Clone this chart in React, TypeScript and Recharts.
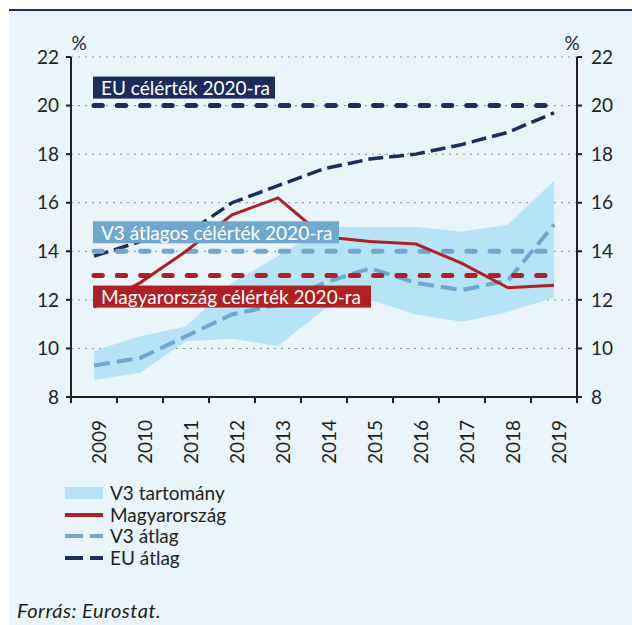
import React from 'react';
import { ComposedChart, Line, Area, XAxis, YAxis, CartesianGrid, ReferenceDot } from 'recharts';

const years = [2009, 2010, 2011, 2012, 2013, 2014, 2015, 2016, 2017, 2018, 2019];
const euAvg = [13.8, 14.4, 14.7, 16.0, 16.7, 17.4, 17.8, 18.0, 18.4, 18.9, 19.7];
const huValues = [11.7, 12.7, 14.0, 15.5, 16.2, 14.6, 14.4, 14.3, 13.5, 12.5, 12.6];
const v3Avg = [9.3, 9.6, 10.5, 11.4, 11.8, 12.7, 13.3, 12.7, 12.4, 12.8, 15.1];
const v3Low = [8.7, 9.0, 10.3, 10.4, 10.1, 11.6, 12.0, 11.4, 11.1, 11.5, 12.1];
const v3High = [9.9, 10.5, 10.9, 12.7, 13.8, 15.0, 15.0, 15.0, 14.8, 15.1, 16.9];
const euTarget = [20, 20, 20, 20, 20, 20, 20, 20, 20, 20, 20];
const v3Target = [14, 14, 14, 14, 14, 14, 14, 14, 14, 14, 14];
const huTarget = [13, 13, 13, 13, 13, 13, 13, 13, 13, 13, 13];
const yTicks = [8, 10, 12, 14, 16, 18, 20, 22];

const NAVY = '#1b2d5b';
const RED = '#b01f24';
const STEEL = '#6fa7cf';
const AREA = '#b7e3f6';
const TEXT = '#231f20';
const FONT = 'Lato, "Open Sans", sans-serif';
const FS = 19;

const data = years.map((year, i) => ({
  year,
  eu: euAvg[i],
  hu: huValues[i],
  v3: v3Avg[i],
  range: [v3Low[i], v3High[i]],
  euT: euTarget[i],
  v3T: v3Target[i],
  huT: huTarget[i],
}));

const xTicks = [...years.flatMap((y) => [y - 0.5, y]), years[years.length - 1] + 0.5];

const legendItems = [
  { name: 'V3 tartomány', kind: 'area', color: AREA },
  { name: 'Magyarország', kind: 'solid', color: RED },
  { name: 'V3 átlag', kind: 'dash', color: STEEL },
  { name: 'EU átlag', kind: 'dash', color: NAVY },
];

const XTick = (props: any) => {
  const { x, y, payload } = props;
  const v = payload.value;
  if (!Number.isInteger(v)) {
    return <line x1={x} x2={x} y1={y} y2={y + 6} stroke={TEXT} strokeWidth={2} />;
  }
  const tx = x + 4;
  const ty = y + 23;
  return (
    <text
      x={tx}
      y={ty}
      transform={`rotate(-90 ${tx} ${ty})`}
      textAnchor="end"
      dominantBaseline="central"
      fontSize={FS}
      fontFamily={FONT}
      fill={TEXT}
    >
      {v}
    </text>
  );
};

const makeBox = (text: string, color: string, width: number, dy: number) => (p: any) => {
  const bx = p.cx - 1;
  const by = p.cy + dy;
  return (
    <g>
      <rect x={bx} y={by} width={width} height={22} fill={color} />
      <text x={bx + 8} y={by + 11} dominantBaseline="central" fontSize={FS} fontFamily={FONT} fill="#ffffff">
        {text}
      </text>
    </g>
  );
};

export default function App() {
  return (
    <div style={{ padding: '9px 0 0 9px' }}>
      <style>{`body{margin:0;overflow:hidden}`}</style>
      <div
        style={{
          position: 'relative',
          width: 623,
          height: 614,
          background: '#e9f4fb',
          borderTop: '2px solid #1f2a6e',
          fontFamily: FONT,
          color: TEXT,
        }}
      >
        <ComposedChart width={623} height={480} data={data} margin={{ top: 46, right: 0, left: 0, bottom: 44 }}>
          <CartesianGrid vertical={false} yAxisId="l" stroke="#8a8a8a" strokeDasharray="2 5" />
          <XAxis
            dataKey="year"
            type="number"
            domain={[2008.5, 2019.5]}
            ticks={xTicks}
            interval={0}
            height={50}
            tickLine={false}
            tickSize={0}
            tickMargin={0}
            axisLine={{ stroke: TEXT, strokeWidth: 2 }}
            tick={<XTick />}
          />
          <YAxis
            yAxisId="l"
            orientation="left"
            width={62}
            domain={[8, 22]}
            ticks={yTicks}
            allowDataOverflow
            interval={0}
            tickSize={5}
            tickMargin={7}
            axisLine={{ stroke: TEXT, strokeWidth: 2 }}
            tickLine={{ stroke: TEXT, strokeWidth: 2 }}
            tick={{ fontSize: FS, fill: TEXT, fontFamily: FONT }}
          />
          <YAxis
            yAxisId="r"
            orientation="right"
            width={55}
            domain={[8, 22]}
            ticks={yTicks}
            allowDataOverflow
            interval={0}
            tickSize={5}
            tickMargin={9}
            axisLine={{ stroke: TEXT, strokeWidth: 2 }}
            tickLine={{ stroke: TEXT, strokeWidth: 2 }}
            tick={{ fontSize: FS, fill: TEXT, fontFamily: FONT }}
          />
          <Area yAxisId="l" dataKey="range" type="linear" stroke="none" fill={AREA} fillOpacity={1} isAnimationActive={false} legendType="none" />
          <Line yAxisId="l" dataKey="v3" type="linear" stroke={STEEL} strokeWidth={4} strokeDasharray="16 7" dot={false} isAnimationActive={false} />
          <Line yAxisId="l" dataKey="eu" type="linear" stroke={NAVY} strokeWidth={3.5} strokeDasharray="15 6" dot={false} isAnimationActive={false} />
          <Line yAxisId="l" dataKey="euT" type="linear" stroke={NAVY} strokeWidth={5} strokeDasharray="8.3 15" strokeLinecap="round" dot={false} isAnimationActive={false} />
          <Line yAxisId="l" dataKey="v3T" type="linear" stroke={STEEL} strokeWidth={5} strokeDasharray="8.3 15" strokeLinecap="round" dot={false} isAnimationActive={false} />
          <Line yAxisId="l" dataKey="huT" type="linear" stroke={RED} strokeWidth={5} strokeDasharray="8.3 15" strokeLinecap="round" dot={false} isAnimationActive={false} />
          <Line yAxisId="l" dataKey="hu" type="linear" stroke={RED} strokeWidth={3} dot={false} isAnimationActive={false} />
          <ReferenceDot yAxisId="l" x={years[0]} y={euTarget[0]} r={0} shape={makeBox('EU célérték 2020-ra', NAVY, 182, -29)} />
          <ReferenceDot yAxisId="l" x={years[0]} y={v3Target[0]} r={0} shape={makeBox('V3 átlagos célérték 2020-ra', STEEL, 246, -30)} />
          <ReferenceDot yAxisId="l" x={years[0]} y={huTarget[0]} r={0} shape={makeBox('Magyarország célérték 2020-ra', RED, 278, 10)} />
        </ComposedChart>

        <span style={{ position: 'absolute', left: 70, top: 31, transform: 'translate(-50%,-50%)', fontSize: FS }}>%</span>
        <span style={{ position: 'absolute', left: 563, top: 31, transform: 'translate(-50%,-50%)', fontSize: FS }}>%</span>

        {legendItems.map((it, i) => (
          <div
            key={it.name}
            style={{ position: 'absolute', left: 56, top: 482 + i * 21.7, transform: 'translateY(-50%)', display: 'flex', alignItems: 'center', fontSize: FS, lineHeight: '22px' }}
          >
            <svg width={40} height={14} style={{ marginRight: 5 }}>
              {it.kind === 'area' && <rect x={0} y={1} width={38} height={12} fill={it.color} />}
              {it.kind === 'solid' && <line x1={0} x2={38} y1={7} y2={7} stroke={it.color} strokeWidth={4} />}
              {it.kind === 'dash' && <line x1={0} x2={38} y1={7} y2={7} stroke={it.color} strokeWidth={4} strokeDasharray="18 7" />}
            </svg>
            <span>{it.name}</span>
          </div>
        ))}

        <div style={{ position: 'absolute', left: 8, top: 599, transform: 'translateY(-50%)', fontSize: 20, fontStyle: 'italic', letterSpacing: 0.5 }}>
          Forrás: Eurostat.
        </div>
      </div>
    </div>
  );
}
